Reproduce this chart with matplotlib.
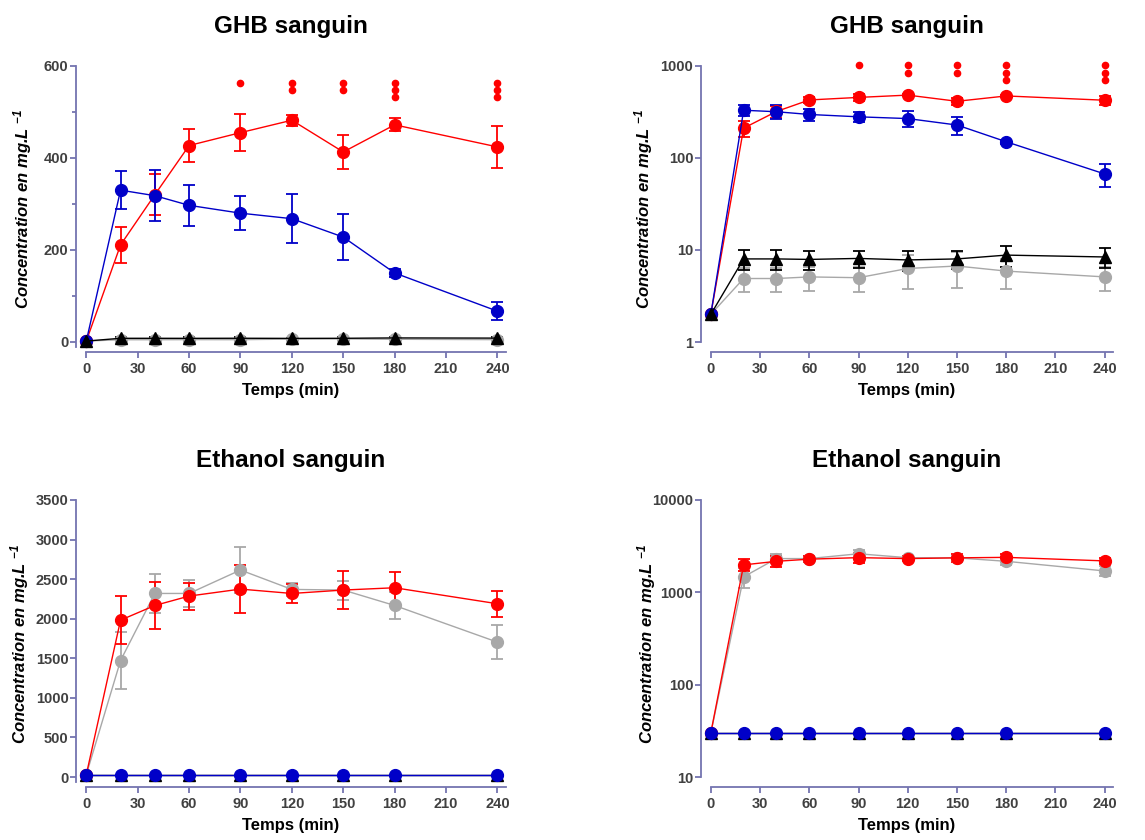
import numpy as np
import matplotlib
matplotlib.use("Agg")
import matplotlib.pyplot as plt
from matplotlib.ticker import FixedLocator, NullLocator, NullFormatter

plt.rcParams['font.family'] = ['Liberation Sans', 'DejaVu Sans']
plt.rcParams['mathtext.fontset'] = 'custom'
plt.rcParams['mathtext.it'] = 'Liberation Sans:italic:bold'
plt.rcParams['mathtext.rm'] = 'Liberation Sans:italic:bold'
plt.rcParams['mathtext.default'] = 'it'

times = [0, 20, 40, 60, 90, 120, 150, 180, 240]

# GHB sanguin
ghb_red = [2, 211, 320, 427, 455, 482, 413, 472, 424]
ghb_red_err = [0, 40, 45, 35, 40, 12, 37, 14, 46]
ghb_blue = [2, 330, 318, 297, 280, 268, 228, 150, 67]
ghb_blue_err = [0, 42, 56, 45, 37, 53, 50, 8, 19]
ghb_black = [2, 8.0, 8.0, 7.9, 8.1, 7.8, 8.0, 8.8, 8.4]
ghb_black_err = [0, 1.9, 1.9, 1.9, 1.7, 1.9, 1.8, 2.2, 2.0]
ghb_gray = [2, 4.9, 4.9, 5.1, 5.0, 6.3, 6.7, 5.9, 5.1]
ghb_gray_err = [0, 1.4, 1.4, 1.5, 1.5, 2.5, 2.8, 2.1, 1.5]

# Ethanol sanguin
eth_red = [30, 1982, 2167, 2286, 2374, 2319, 2362, 2391, 2189]
eth_red_err = [0, 300, 300, 170, 300, 125, 235, 205, 165]
eth_gray = [30, 1472, 2319, 2319, 2615, 2370, 2362, 2167, 1704]
eth_gray_err = [0, 365, 250, 165, 290, 80, 120, 170, 215]
eth_blue = [30, 30, 30, 30, 30, 30, 30, 30, 30]
eth_black = [30, 30, 30, 30, 30, 30, 30, 30, 30]

# significance marks (number of dots) above GHB curves
sig_times = [90, 120, 150, 180, 240]
sig_counts = [1, 2, 2, 3, 3]

RED = '#FF0000'
BLUE = '#0000C8'
GRAY = '#A8A8A8'
BLACK = '#000000'
SPINE = '#7474B0'
TICKTXT = '#404040'

fig = plt.figure(figsize=(11.45, 8.4), dpi=100)
w_left, w_right = 0.3755, 0.3598
axes = {
    'ghb_lin': fig.add_axes([0.0664, 0.581, w_left, 0.3405]),
    'ghb_log': fig.add_axes([0.6122, 0.581, w_right, 0.3405]),
    'eth_lin': fig.add_axes([0.0664, 0.0631, w_left, 0.3417]),
    'eth_log': fig.add_axes([0.6122, 0.0631, w_right, 0.3417]),
}


def draw_series(ax, y, err, color, marker):
    ax.errorbar(times, y, yerr=err, color=color, marker=marker,
                markersize=8.5, linewidth=1.0, elinewidth=1.3,
                capsize=4, capthick=1.3, clip_on=False)


def style(ax, title, ylim, spine_low, log=False, ylab_x=-0.1):
    ax.set_xlim(-6, 245)
    ax.set_ylim(*ylim)
    if log:
        ax.set_yscale('log')
        ax.yaxis.set_minor_locator(NullLocator())
        ax.yaxis.set_minor_formatter(NullFormatter())
        ax.yaxis.set_major_formatter(matplotlib.ticker.FuncFormatter(lambda v, p: f'{v:g}'))
    for s in ['top', 'right']:
        ax.spines[s].set_visible(False)
    for s in ['left', 'bottom']:
        ax.spines[s].set_color(SPINE)
        ax.spines[s].set_linewidth(1.3)
    ax.spines['bottom'].set_bounds(0, 245)
    ax.spines['left'].set_bounds(spine_low, ylim[1])
    ax.set_xticks(range(0, 241, 30))
    ax.tick_params(axis='both', which='both', color=SPINE, labelcolor=TICKTXT,
                   labelsize=10.5, width=1.3, length=4, direction='out', pad=1.5)
    ax.tick_params(axis='x', pad=3)
    ax.tick_params(axis='both', which='minor', length=3)
    for lab in ax.get_xticklabels() + ax.get_yticklabels():
        lab.set_fontweight('bold')
    ax.set_title(title, fontsize=17.5, fontweight='bold', pad=24)
    ax.set_xlabel('Temps (min)', fontsize=12, fontweight='bold', labelpad=5)
    ax.set_ylabel(r'Concentration en mg.L $^{-1}$', fontsize=12,
                  fontweight='bold', style='italic')
    ax.yaxis.set_label_coords(ylab_x, 0.5)


# GHB linear
ax = axes['ghb_lin']
draw_series(ax, ghb_gray, ghb_gray_err, GRAY, 'o')
draw_series(ax, ghb_red, ghb_red_err, RED, 'o')
draw_series(ax, ghb_blue, ghb_blue_err, BLUE, 'o')
draw_series(ax, ghb_black, ghb_black_err, BLACK, '^')
for t, n in zip(sig_times, sig_counts):
    ys = [564 - 15.5 * k for k in range(n)]
    ax.plot([t] * n, ys, 'o', color=RED, markersize=4.5, clip_on=False)
ax.set_yticks([0, 200, 400, 600])
ax.yaxis.set_minor_locator(FixedLocator([100, 300, 500]))
style(ax, 'GHB sanguin', (-21.7, 600), -10, ylab_x=-0.098)

# GHB log
ax = axes['ghb_log']
draw_series(ax, ghb_gray, ghb_gray_err, GRAY, 'o')
draw_series(ax, ghb_red, ghb_red_err, RED, 'o')
draw_series(ax, ghb_blue, ghb_blue_err, BLUE, 'o')
draw_series(ax, ghb_black, ghb_black_err, BLACK, '^')
for t, n in zip(sig_times, sig_counts):
    ys = [1016 * (0.834 ** k) for k in range(n)]
    ax.plot([t] * n, ys, 'o', color=RED, markersize=4.5, clip_on=False)
ax.set_yticks([1, 10, 100, 1000])
style(ax, 'GHB sanguin', (0.78, 1000), 1, log=True, ylab_x=-0.112)

# Ethanol linear
ax = axes['eth_lin']
draw_series(ax, eth_gray, eth_gray_err, GRAY, 'o')
draw_series(ax, eth_red, eth_red_err, RED, 'o')
draw_series(ax, eth_black, [0] * 9, BLACK, '^')
draw_series(ax, eth_blue, [0] * 9, BLUE, 'o')
ax.set_yticks(range(0, 3501, 500))
style(ax, 'Ethanol sanguin', (-126, 3500), -60, ylab_x=-0.105)

# Ethanol log
ax = axes['eth_log']
draw_series(ax, eth_gray, eth_gray_err, GRAY, 'o')
draw_series(ax, eth_red, eth_red_err, RED, 'o')
draw_series(ax, eth_black, [0] * 9, BLACK, '^')
draw_series(ax, eth_blue, [0] * 9, BLUE, 'o')
ax.set_yticks([10, 100, 1000, 10000])
style(ax, 'Ethanol sanguin', (7.8, 10000), 10, log=True, ylab_x=-0.105)

fig.savefig('out.png', dpi=100)
